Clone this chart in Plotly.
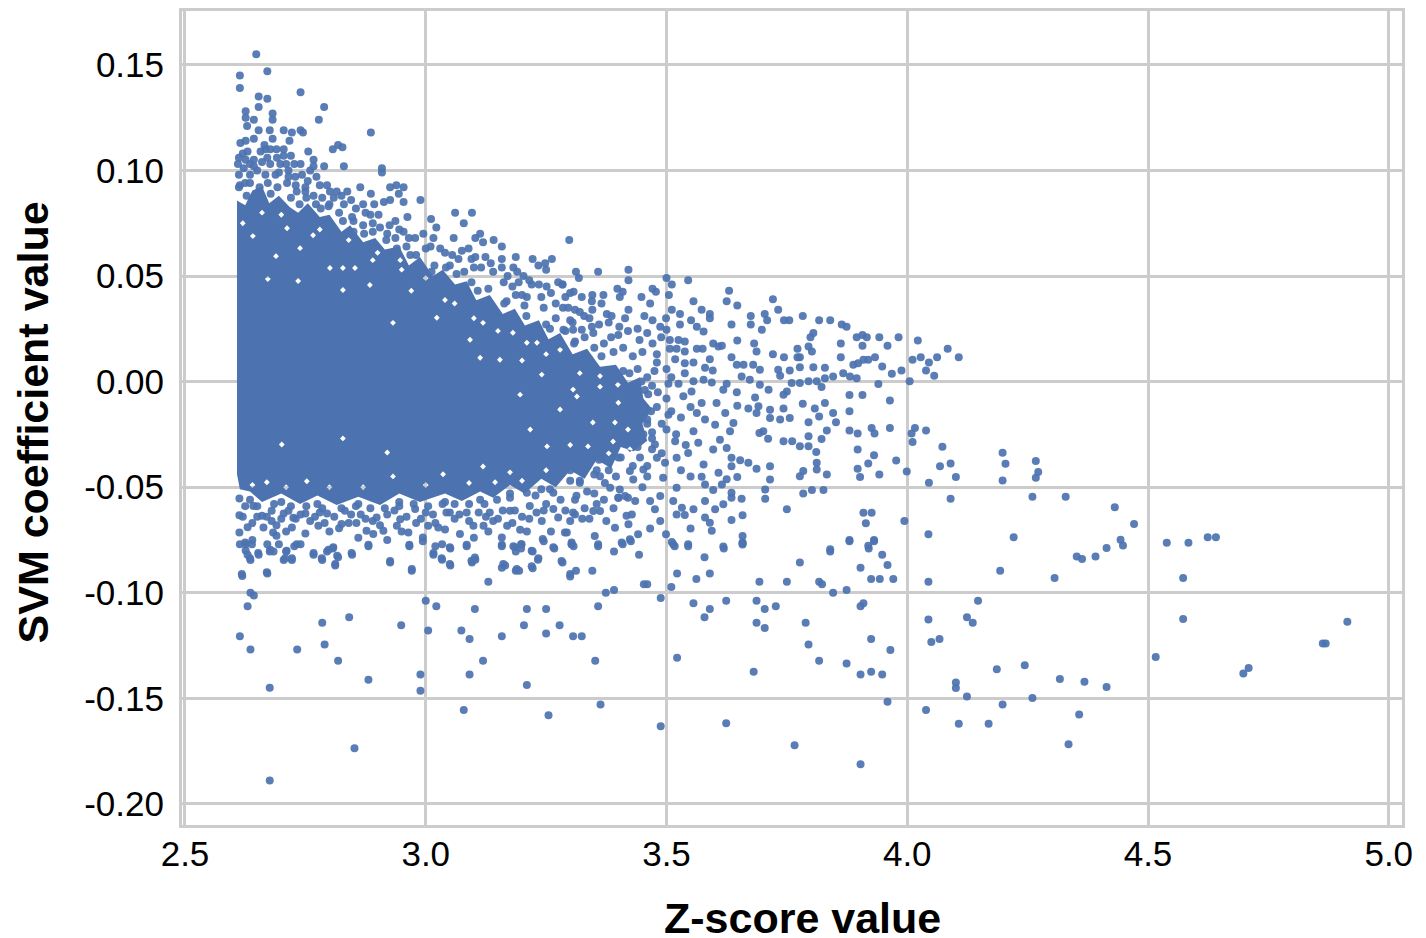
import plotly.graph_objects as go

core_outline = [(2.608,0.0858),(2.625,0.0835),(2.640,0.0905),(2.660,0.0925),(2.675,0.0845),(2.695,0.0880),(2.718,0.0825),(2.735,0.0800),(2.755,0.0845),(2.780,0.0780),(2.800,0.0790),(2.825,0.0710),(2.843,0.0740),(2.870,0.0660),(2.895,0.0680),(2.915,0.0625),(2.945,0.0640),(2.965,0.0550),(2.988,0.0590),(3.015,0.0500),(3.035,0.0530),(3.061,0.0460),(3.085,0.0475),(3.105,0.0385),(3.133,0.0410),(3.160,0.0320),(3.185,0.0345),(3.206,0.0265),(3.235,0.0290),(3.255,0.0200),(3.279,0.0230),(3.305,0.0130),(3.335,0.0155),(3.362,0.0070),(3.395,0.0080),(3.420,-0.0005),(3.445,0.0020),(3.452,-0.0080),(3.470,-0.0130),(3.450,-0.0200),(3.460,-0.0280),(3.432,-0.0330),(3.405,-0.0310),(3.385,-0.0410),(3.355,-0.0370),(3.330,-0.0460),(3.300,-0.0420),(3.270,-0.0500),(3.240,-0.0460),(3.205,-0.0530),(3.175,-0.0490),(3.140,-0.0550),(3.113,-0.0520),(3.075,-0.0565),(3.040,-0.0530),(2.988,-0.0570),(2.945,-0.0530),(2.905,-0.0585),(2.860,-0.0545),(2.815,-0.0585),(2.775,-0.0540),(2.739,-0.0580),(2.700,-0.0530),(2.660,-0.0570),(2.635,-0.0520),(2.614,-0.0510),(2.608,-0.0439)]
core_gaps = [(2.932,0.0278),(3.113,0.0113),(3.023,0.0302),(3.119,0.0278),(3.241,0.0033),(3.306,-0.0038),(3.252,-0.0307),(3.217,-0.0227),(3.119,-0.0402),(3.175,-0.0430),(2.701,-0.0298),(2.920,-0.0336),(2.932,-0.0449),(2.670,-0.0477),(2.828,-0.0269),(2.753,-0.0472),(3.036,-0.0439),(3.144,-0.0477),(3.231,0.0184),(3.210,0.0184),(3.181,0.0231),(2.641,0.0689),(2.712,0.0726),(2.766,0.0693),(2.739,0.0632),(2.689,0.0594),(2.828,0.0538),(2.801,0.0538),(2.853,0.0538),(2.890,0.0575),(2.735,0.0476),(2.672,0.0486),(2.828,0.0434),(2.884,0.0457),(2.947,0.0575),(3.347,-0.0194),(3.393,-0.0194),(3.420,-0.0227),(3.399,-0.0015),(3.362,-0.0024),(3.337,-0.0307),(3.389,-0.0284),(3.424,-0.0321),(3.314,-0.0071),(3.040,0.0386),(3.092,0.0198),(3.154,0.0103),(3.279,0.0151),(3.362,0.0026),(3.279,-0.0132),(3.196,-0.0062),(3.00,0.049),(3.06,0.037),(2.97,0.043),(3.10,0.030),(3.15,0.024),(3.20,0.010),(3.25,0.013),(3.32,0.004),(3.40,-0.010),(3.38,-0.034),(3.30,-0.030),(3.25,-0.042),(3.20,-0.047),(3.09,-0.048),(3.00,-0.049),(2.87,-0.050),(2.80,-0.050),(2.71,-0.050),(2.64,-0.049),(2.78,0.072),(2.84,0.067),(2.90,0.061),(2.95,0.053),(2.66,0.080),(2.70,0.079),(2.62,0.075)]

upper_left = [(2.648,0.155),(2.671,0.147),(2.614,0.145),(2.614,0.139),(2.740,0.137),(2.653,0.135),(2.671,0.134),(2.653,0.130),(2.789,0.130),(2.778,0.124),(2.626,0.128),(2.626,0.125),(2.682,0.127),(2.682,0.124),(2.643,0.124),(2.629,0.121),(2.653,0.119),(2.676,0.119),(2.705,0.119),(2.722,0.118),(2.740,0.119),(2.745,0.118),(2.886,0.118),(2.717,0.114),(2.682,0.115),(2.615,0.113),(2.626,0.114),(2.643,0.115),(2.630,0.109),(2.667,0.110),(2.657,0.109),(2.677,0.110),(2.705,0.110),(2.807,0.110),(2.818,0.112),(2.827,0.111),(2.756,0.109),(2.612,0.106),(2.626,0.105),(2.643,0.105),(2.671,0.106),(2.691,0.106),(2.705,0.107),(2.767,0.105),(2.767,0.102),(2.727,0.103),(2.789,0.102),(2.830,0.102),(2.643,0.102),(2.677,0.103),(2.698,0.103),(2.909,0.101),(2.909,0.099),(2.635,0.098),(2.667,0.098),(2.715,0.100),(2.743,0.098),(2.773,0.097),(2.614,0.093),(2.635,0.094),(2.688,0.098),(2.715,0.097),(2.729,0.097),(2.795,0.093),(2.837,0.090),(2.864,0.092),(2.886,0.089),(2.926,0.092),(2.939,0.093),(2.954,0.092),(2.944,0.089),(2.989,0.086),(2.954,0.085),(2.926,0.086),(2.913,0.085),(2.801,0.090),(2.809,0.087),(2.750,0.092),(2.750,0.090),(2.767,0.088),(2.830,0.084),(2.870,0.084),(2.893,0.084),(3.061,0.080),(3.096,0.080),(3.079,0.075),(3.011,0.077),(3.022,0.073),(2.962,0.078),(2.902,0.079),(2.885,0.079),(2.847,0.078),(3.058,0.068),(3.103,0.068),(3.113,0.070),(3.119,0.066),(3.141,0.067),(3.158,0.064),(3.016,0.068),(2.978,0.068),(2.954,0.071),(2.937,0.076),(2.937,0.068),(3.298,0.067),(3.089,0.063),(3.068,0.058),(3.103,0.059),(3.124,0.059),(3.187,0.059),(3.158,0.058),(3.222,0.058),(3.234,0.055),(3.262,0.058),(3.248,0.056),(3.158,0.054),(3.182,0.054),(3.250,0.053),(3.203,0.050),(3.193,0.047),(3.162,0.047),(3.251,0.045),(3.284,0.046),(3.187,0.041),(3.210,0.040)]

upper_band = [(3.00,0.063),(3.04,0.061),(3.05,0.055),(3.08,0.052),(3.10,0.054),(3.14,0.052),(3.18,0.045),(3.20,0.041),(3.22,0.046),(3.24,0.040),(3.27,0.037),(3.29,0.040),(3.31,0.034),(3.25,0.027),(3.27,0.030),(3.29,0.024),(3.31,0.019),(3.33,0.021),(3.35,0.016),(3.37,0.018),(3.39,0.014),(3.41,0.016),(3.43,0.012),(3.45,0.014),(3.41,0.005),(3.44,0.006),(3.46,0.002),(3.48,0.009),(3.47,-0.002),(3.46,-0.018),(3.44,-0.031),(3.40,-0.036),(3.36,-0.037),(3.38,-0.042),(3.35,-0.044),(3.30,-0.042)]

upper_fill = [(2.61,0.103),(2.62,0.108),(2.635,0.103),(2.65,0.100),(2.66,0.104),(2.665,0.112),(2.69,0.110),(2.695,0.099),(2.71,0.103),(2.72,0.107),(2.73,0.093),(2.74,0.103),(2.755,0.095),(2.76,0.100),(2.78,0.093),(2.785,0.087),(2.80,0.084),(2.815,0.090),(2.825,0.088),(2.845,0.086),(2.855,0.082),(2.875,0.080),(2.89,0.075),(2.905,0.073),(2.925,0.074),(2.945,0.072),(2.965,0.068),(2.995,0.070),(3.01,0.064),(3.03,0.063),(3.055,0.060),(3.075,0.062),(3.095,0.058),(3.115,0.054),(3.135,0.056),(3.17,0.050),(3.19,0.052),(3.215,0.048),(3.235,0.046),(3.26,0.042),(3.275,0.047),(3.30,0.042),(3.32,0.033),(3.34,0.030),(3.36,0.027),(3.38,0.028),(3.40,0.022),(3.42,0.024),(3.44,0.025),(3.46,0.023),(3.48,0.013),(3.50,0.006),(3.51,0.002),(2.612,0.092),(2.625,0.094),(2.612,0.098),(2.622,0.101),(2.655,0.092),(2.672,0.094),(2.692,0.092),(2.712,0.094),(2.732,0.090),(2.752,0.087),(2.772,0.084),(2.798,0.083),(2.82,0.080),(2.85,0.076),(2.87,0.074),(2.89,0.071),(2.92,0.070),(2.94,0.063),(2.96,0.064),(2.98,0.060),(3.012,0.052),(3.042,0.054),(3.095,0.047),(3.130,0.044),(3.168,0.038),(3.205,0.036),(3.245,0.035),(3.285,0.035),(3.305,0.028),(3.345,0.026)]

core_rim = [(2.628,0.088),(2.678,0.089),(2.72,0.087),(2.738,0.084),(2.782,0.082),(2.828,0.076),(2.872,0.070),(2.918,0.067),(2.968,0.060),(3.018,0.055),(3.064,0.051),(3.108,0.043),(3.163,0.037),(3.209,0.031),(3.258,0.025),(3.308,0.018),(3.365,0.012),(3.423,0.004),(2.85,0.071),(2.895,0.064),(2.99,0.054),(3.04,0.048),(3.083,0.042),(3.135,0.036),(3.185,0.029),(3.235,0.024),(3.28,0.018),(3.335,0.010),(3.395,0.003),(3.405,-0.036),(3.355,-0.042),(3.30,-0.047),(3.24,-0.051),(3.175,-0.053),(3.113,-0.056),(3.04,-0.057),(2.945,-0.057),(2.86,-0.058),(2.775,-0.058),(2.70,-0.057),(2.635,-0.056),(3.455,-0.004),(3.46,-0.020),(3.47,-0.027),(3.445,-0.036),(3.43,-0.040),(2.62,-0.064),(2.64,-0.067),(2.66,-0.0635),(2.68,-0.066),(2.705,-0.0625),(2.725,-0.0645),(2.75,-0.0625),(2.77,-0.064),(2.795,-0.0625),(2.82,-0.0695),(2.845,-0.063),(2.875,-0.065),(2.905,-0.068),(2.935,-0.061),(2.96,-0.064),(2.99,-0.065),(3.015,-0.063),(3.05,-0.062),(3.085,-0.062),(3.125,-0.064),(3.15,-0.065),(3.185,-0.061),(3.215,-0.065),(3.245,-0.061),(3.29,-0.061),(3.325,-0.065),(3.355,-0.058),(3.40,-0.055),(3.375,-0.066),(3.335,-0.052)]

core_edge = [(3.448,0.0),(3.452,-0.025),(3.462,-0.006),(3.468,-0.014),(3.475,0.005),(3.482,-0.005),(3.395,-0.045),(3.372,-0.048),(3.320,-0.047),(3.258,-0.051),(3.228,-0.054),(3.175,-0.055),(3.148,-0.056),(3.122,-0.058),(3.090,-0.058),(3.060,-0.058),(3.035,-0.058),(3.005,-0.059),(2.975,-0.058),(2.945,-0.059),(2.915,-0.060),(2.885,-0.060),(2.855,-0.059),(2.825,-0.060),(2.785,-0.060),(2.752,-0.059),(2.72,-0.059),(2.685,-0.058),(2.625,-0.059),(2.65,-0.059),(2.67,-0.064),(2.69,-0.068),(2.71,-0.071),(2.73,-0.065),(2.76,-0.066),(2.79,-0.067),(2.81,-0.064),(2.84,-0.067),(2.865,-0.063),(2.89,-0.066),(2.92,-0.063),(2.95,-0.071),(3.00,-0.062),(3.02,-0.067),(3.07,-0.063),(3.09,-0.066),(3.11,-0.062),(3.14,-0.066),(3.16,-0.061),(3.20,-0.064),(3.23,-0.062),(3.25,-0.058),(3.28,-0.056),(3.31,-0.056),(3.34,-0.065),(3.37,-0.056),(3.39,-0.060),(3.42,-0.055),(3.45,-0.050),(3.46,-0.040),(3.47,-0.024),(3.48,-0.012),(3.49,-0.020),(3.47,-0.032),(3.49,-0.034),(3.46,-0.045),(3.50,-0.008),(3.51,-0.014),(3.52,-0.025),(3.53,-0.017),(3.54,-0.030),(3.53,-0.042),(3.55,-0.045),(3.55,-0.012)]

middle_right = [(3.421,0.053),(3.421,0.048),(3.358,0.052),(3.312,0.052),(3.318,0.049),(3.284,0.046),(3.500,0.049),(3.511,0.046),(3.545,0.048),(3.307,0.0425),(3.324,0.040),(3.346,0.041),(3.369,0.041),(3.398,0.044),(3.409,0.0425),(3.403,0.040),(3.448,0.040),(3.471,0.044),(3.478,0.0425),(3.505,0.041),(3.466,0.037),(3.345,0.038),(3.365,0.037),(3.346,0.034),(3.296,0.035),(3.421,0.034),(3.376,0.032),(3.386,0.031),(3.329,0.031),(3.454,0.031),(3.414,0.030),(3.300,0.029),(3.556,0.038),(3.630,0.043),(3.625,0.038),(3.647,0.036),(3.721,0.039),(3.732,0.034),(3.704,0.032),(3.675,0.031),(3.675,0.027),(3.709,0.029),(3.698,0.0245),(3.511,0.034),(3.528,0.032),(3.573,0.034),(3.590,0.032),(3.590,0.030),(3.551,0.029),(3.528,0.027),(3.635,0.027),(3.744,0.029),(3.755,0.029),(3.783,0.031),(3.817,0.029),(3.840,0.029),(3.864,0.027),(3.874,0.026),(3.471,0.029),(3.499,0.030),(3.487,0.026),(3.500,0.0245),(3.402,0.026),(3.563,0.026),(3.577,0.0237),(3.306,0.0245),(3.324,0.0245),(3.286,0.0245),(3.805,0.023),(3.799,0.021),(3.795,0.0166),(3.802,0.0142),(3.772,0.0156),(3.772,0.0115),(3.777,0.0115),(3.744,0.0115),(3.721,0.013),(3.687,0.0142),(3.682,0.018),(3.647,0.0194),(3.635,0.0115),(3.597,0.018),(3.608,0.0166),(3.615,0.017),(3.348,0.023),(3.385,0.021),(3.444,0.0197),(3.471,0.018),(3.489,0.021),(3.507,0.0197),(3.525,0.0197),(3.538,0.019),(3.507,0.0156),(3.521,0.0156),(3.538,0.0142),(3.563,0.0156),(3.575,0.0156),(3.862,0.018),(3.862,0.0115),(3.895,0.021),(3.907,0.022),(3.916,0.021),(3.907,0.017),(3.942,0.021),(3.959,0.017),(3.982,0.021),(4.022,0.0194),(4.084,0.0156),(4.107,0.0115),(4.062,0.0115),(4.028,0.0115),(4.011,0.0103),(4.045,0.009),(4.039,0.0052),(4.056,0.0027),(3.988,0.0052),(3.968,0.0037),(4.005,0.0001),(3.888,0.008),(3.898,0.0087),(3.909,0.0103),(3.919,0.0103),(3.933,0.0115),(3.948,0.0071),(3.867,0.004),(3.881,0.0024),(3.895,0.0016),(3.846,0.0024),(3.829,0.0016),(3.812,0.0001),(3.795,0.0001),(3.777,-0.0007),(3.760,-0.0007),(3.750,-0.0047),(3.743,-0.0062),(3.940,-0.0012),(3.822,-0.0026),(3.880,-0.0064),(3.907,-0.0064),(3.964,-0.009),(3.646,0.008),(3.660,0.008),(3.680,0.008),(3.694,0.0056),(3.732,0.0056),(3.756,0.0052),(3.736,0.0027),(3.777,0.0068),(3.805,0.0068),(3.829,0.0065),(3.656,0.0024),(3.673,0.0009),(3.694,-0.0015),(3.712,-0.0039),(3.618,-0.0039),(3.625,-0.0010),(3.646,-0.0051),(3.684,-0.0076),(3.556,0.0001),(3.577,0.0009),(3.594,-0.0004),(3.504,-0.0010),(3.525,-0.0010),(3.538,0.004),(3.518,0.0106),(3.538,0.0087),(3.556,0.009),(3.590,0.0106),(3.580,0.0065),(3.596,0.0052),(3.647,-0.0114),(3.670,-0.0127),(3.691,-0.0117),(3.687,-0.0149),(3.715,-0.0133),(3.715,-0.0172),(3.743,-0.0127),(3.736,-0.0180),(3.756,-0.0172),(3.783,-0.0105),(3.808,-0.0127),(3.829,-0.0102),(3.817,-0.0165),(3.846,-0.0149),(3.852,-0.0193),(3.880,-0.0141),(3.795,-0.0193),(3.795,-0.0259),(3.833,-0.0232),(3.822,-0.0272),(3.880,-0.0232),(3.897,-0.0246),(3.926,-0.0220),(3.932,-0.0246),(3.964,-0.0220),(4.016,-0.0220),(4.009,-0.0246),(4.039,-0.0232),(4.011,-0.0286),(4.073,-0.0309),(3.897,-0.0322),(3.931,-0.0349),(3.919,-0.0388),(3.977,-0.0374),(4.068,-0.0401),(4.090,-0.0388),(3.897,-0.0413),(3.902,-0.0452),(3.942,-0.0440),(3.999,-0.0426),(4.101,-0.0452),(4.045,-0.0479),(4.090,-0.0555),(3.994,-0.0660),(4.044,-0.0723),(3.909,-0.0621),(3.926,-0.0621),(3.914,-0.0671),(3.880,-0.0750),(3.931,-0.0750),(3.919,-0.0778),(3.840,-0.0794),(3.750,-0.0605),(3.658,-0.0633),(3.658,-0.0731),(3.658,-0.0762),(3.635,-0.0655),(3.618,-0.0781),(3.545,-0.0770),(3.550,-0.0696),(3.594,-0.0707),(3.590,-0.0668),(3.580,-0.0644),(3.656,-0.0555),(3.705,-0.0511),(3.705,-0.0555),(3.784,-0.0530),(3.802,-0.0514),(3.826,-0.0514),(3.715,-0.0464),(3.715,-0.0401),(3.687,-0.0413),(3.670,-0.0385),(3.653,-0.0372),(3.635,-0.0361),(3.635,-0.0401),(3.647,-0.0452),(3.625,-0.0463),(3.615,-0.0487),(3.597,-0.0514),(3.635,-0.0526),(3.777,-0.0448),(3.784,-0.0424),(3.812,-0.0385),(3.812,-0.0416),(3.833,-0.0440),(3.777,-0.0306),(3.795,-0.0306),(3.811,-0.0333),(3.743,-0.0283),(3.761,-0.0283),(3.701,-0.0235),(3.711,-0.0271),(3.693,-0.0243),(3.573,-0.0102),(3.604,-0.0102),(3.622,-0.0149),(3.563,-0.0149),(3.580,-0.0180),(3.601,-0.0204),(3.639,-0.0196),(3.632,-0.0235),(3.611,-0.0275),(3.625,-0.0314),(3.597,-0.0322),(3.577,-0.0393),(3.608,-0.0432),(3.573,-0.0451),(3.580,-0.0487),(3.504,-0.0157),(3.535,-0.0070),(3.552,-0.0047),(3.500,-0.0227),(3.518,-0.0283),(3.476,-0.0298),(3.545,-0.0338),(3.480,-0.0361),(3.521,-0.0361),(3.566,-0.0290),(3.556,-0.0235),(3.497,-0.0385),(3.493,-0.0456),(3.452,-0.0416),(3.521,-0.0503),(3.487,-0.0542),(3.514,-0.0566),(3.532,-0.0597),(3.556,-0.0605),(3.521,-0.0629),(3.538,-0.0632),(3.466,-0.0566),(3.476,-0.0605),(3.435,-0.0566),(3.466,-0.0696),(3.487,-0.0660),(3.499,-0.0723),(3.514,-0.0770),(3.580,-0.0566),(3.601,-0.0605),(3.618,-0.0581),(3.635,-0.0550),(3.417,-0.0636),(3.428,-0.0629),(3.421,-0.0676),(3.393,-0.0692),(3.441,-0.0723),(3.424,-0.0747),(3.407,-0.0762),(3.351,-0.0731),(3.358,-0.0770),(3.293,-0.0715),(3.303,-0.0762),(3.348,-0.0613),(3.362,-0.0613),(3.310,-0.0629),(3.403,-0.0511),(3.414,-0.0542),(3.400,-0.0550),(3.383,-0.0503),(3.431,-0.0464),(3.424,-0.0424),(3.362,-0.0448),(3.320,-0.0479)]

lower_fringe = [(2.613,-0.0554),(2.613,-0.0633),(2.613,-0.0715),(2.625,-0.0762),(2.635,-0.0837),(2.618,-0.0911),(2.670,-0.0903),(2.652,-0.0812),(2.677,-0.0796),(2.708,-0.0837),(2.722,-0.0837),(2.711,-0.0801),(2.732,-0.0770),(2.767,-0.0812),(2.784,-0.0837),(2.798,-0.0796),(2.808,-0.0785),(2.816,-0.0825),(2.812,-0.0864),(2.846,-0.0812),(2.881,-0.0773),(2.926,-0.0850),(2.971,-0.0888),(2.966,-0.0773),(2.994,-0.0738),(3.016,-0.0812),(3.033,-0.0837),(3.050,-0.0864),(3.050,-0.0785),(3.085,-0.0773),(3.095,-0.0848),(3.102,-0.0833),(3.161,-0.0864),(3.189,-0.0888),(3.220,-0.0875),(3.234,-0.0837),(3.282,-0.0850),(3.300,-0.0911),(3.220,-0.0801),(3.185,-0.0785),(3.199,-0.0770),(3.158,-0.0738),(3.158,-0.0773),(3.265,-0.0785),(3.303,-0.0770),(3.243,-0.0746),(3.289,-0.0715),(2.663,-0.0691),(2.683,-0.0715),(2.722,-0.0691),(2.777,-0.0683),(2.825,-0.0675),(2.856,-0.0670),(2.877,-0.0707),(2.891,-0.0722),(2.912,-0.0707),(2.940,-0.0683),(2.964,-0.0715),(3.005,-0.0683),(3.026,-0.0691),(3.071,-0.0722),(3.099,-0.0683),(3.120,-0.0683),(3.169,-0.0683),(3.196,-0.0702),(3.241,-0.0660),(3.275,-0.0644),(2.978,-0.0604),(2.898,-0.0644),(2.832,-0.0612),(2.780,-0.0620),(2.715,-0.0612),(2.680,-0.0612),(2.642,-0.0589),(2.947,-0.0652),(3.043,-0.0620),(3.133,-0.0620),(3.175,-0.0612),(3.216,-0.0589),(3.265,-0.0604),(3.306,-0.0620),(3.313,-0.0541),(3.265,-0.0526),(3.210,-0.0526),(2.70,-0.065),(2.74,-0.063),(2.65,-0.064),(2.63,-0.069),(2.64,-0.075),(2.69,-0.073),(2.75,-0.072),(2.80,-0.071),(2.86,-0.074),(2.92,-0.075),(2.98,-0.067),(3.04,-0.070),(3.06,-0.065),(3.10,-0.074),(3.13,-0.071),(3.18,-0.067),(3.21,-0.071),(3.26,-0.071),(3.30,-0.066),(3.33,-0.060),(3.35,-0.053)]

lower_left = [(2.614,-0.1206),(2.636,-0.1269),(2.676,-0.1450),(2.676,-0.1889),(2.852,-0.1736),(2.733,-0.1269),(2.790,-0.1245),(2.785,-0.1142),(2.841,-0.1116),(2.818,-0.1322),(2.881,-0.1412),(2.949,-0.1154),(3.005,-0.1179),(2.989,-0.1387),(2.989,-0.1464),(3.000,-0.1038),(3.022,-0.1064),(3.102,-0.1077),(3.210,-0.1077),(3.250,-0.1077),(3.074,-0.1179),(3.091,-0.1219),(3.119,-0.1322),(3.091,-0.1387),(3.158,-0.1206),(3.204,-0.1154),(3.250,-0.1193),(3.278,-0.1154),(3.306,-0.1206),(3.324,-0.1206),(3.352,-0.1322),(3.210,-0.1437),(3.079,-0.1555),(3.255,-0.1580),(3.363,-0.1529),(3.358,-0.1064),(3.374,-0.1000),(3.391,-0.0987),(2.630,-0.1064),(2.636,-0.1000),(2.643,-0.1013),(2.619,-0.0921),(2.671,-0.0909),(3.130,-0.0948),(2.614,-0.077),(2.626,-0.077),(2.639,-0.077),(2.626,-0.080),(2.630,-0.082),(2.636,-0.0845),(2.653,-0.082),(2.671,-0.077),(2.676,-0.0805),(2.684,-0.0805),(2.695,-0.077),(2.710,-0.0805),(2.705,-0.0845),(2.722,-0.0845),(2.727,-0.078),(2.740,-0.077),(2.767,-0.082),(2.785,-0.0845),(2.795,-0.0805),(2.807,-0.079),(2.818,-0.0832),(2.812,-0.0871),(2.847,-0.082),(2.881,-0.078),(2.926,-0.0857),(2.971,-0.0896),(2.966,-0.078),(2.994,-0.0756),(3.016,-0.082),(3.020,-0.078),(3.034,-0.077),(3.034,-0.0844),(3.051,-0.079),(3.051,-0.0871),(3.085,-0.078),(3.096,-0.0857),(3.103,-0.0844),(3.158,-0.078),(3.158,-0.0882),(3.165,-0.0871),(3.182,-0.078),(3.187,-0.0805),(3.198,-0.077),(3.198,-0.079),(3.187,-0.0896),(3.194,-0.0896),(3.222,-0.0805),(3.222,-0.0884),(3.233,-0.0844),(3.267,-0.079),(3.284,-0.0857),(3.300,-0.0923),(3.312,-0.0896),(3.303,-0.077),(3.307,-0.078),(3.346,-0.0896),(3.358,-0.078),(3.391,-0.0805),(3.245,-0.0756)]

lower_middle = [(3.409,-0.077),(3.426,-0.0756),(3.443,-0.082),(3.453,-0.096),(3.460,-0.096),(3.510,-0.0973),(3.488,-0.1025),(3.522,-0.0909),(3.562,-0.0935),(3.590,-0.0909),(3.517,-0.078),(3.545,-0.078),(3.511,-0.076),(3.579,-0.0832),(3.619,-0.079),(3.658,-0.0766),(3.658,-0.0772),(3.556,-0.1050),(3.590,-0.1077),(3.579,-0.1116),(3.624,-0.1038),(3.522,-0.1308),(3.681,-0.1374),(3.693,-0.0948),(3.750,-0.0948),(3.777,-0.0857),(3.840,-0.0805),(3.817,-0.0948),(3.823,-0.096),(3.846,-0.1000),(3.874,-0.0987),(3.687,-0.1038),(3.704,-0.1077),(3.727,-0.1064),(3.687,-0.1142),(3.704,-0.1167),(3.789,-0.1142),(3.795,-0.1245),(3.817,-0.1322),(3.874,-0.1335),(3.903,-0.1387),(3.925,-0.1374),(3.948,-0.1387),(3.925,-0.1219),(3.965,-0.1271),(3.903,-0.1064),(3.909,-0.1050),(3.959,-0.1516),(3.624,-0.1618),(3.488,-0.1632),(3.766,-0.1722),(3.903,-0.1812),(3.903,-0.0882),(3.925,-0.0935),(3.943,-0.0935),(3.971,-0.0935),(3.959,-0.0869),(3.948,-0.082),(3.920,-0.079),(3.931,-0.0756),(3.880,-0.0756),(4.044,-0.0948),(4.193,-0.0896),(4.044,-0.1127),(4.050,-0.1233),(4.067,-0.1219),(4.147,-0.1038),(4.124,-0.1116),(4.136,-0.1142),(4.186,-0.1362),(4.101,-0.1425),(4.101,-0.1451),(4.124,-0.1491),(4.039,-0.1555),(4.198,-0.1529),(4.107,-0.1620),(4.169,-0.1620)]

far_right = [(4.198,-0.0337),(4.204,-0.0389),(4.198,-0.0468),(4.267,-0.0376),(4.272,-0.0428),(4.267,-0.0455),(4.260,-0.0545),(4.329,-0.0545),(4.431,-0.0595),(4.471,-0.0674),(4.221,-0.0737),(4.443,-0.0749),(4.448,-0.0776),(4.414,-0.0788),(4.391,-0.0828),(4.352,-0.0828),(4.363,-0.0840),(4.306,-0.0930),(4.539,-0.0763),(4.584,-0.0763),(4.624,-0.0737),(4.641,-0.0737),(4.573,-0.0930),(4.573,-0.1125),(4.914,-0.1138),(4.863,-0.1240),(4.869,-0.1240),(4.516,-0.1304),(4.709,-0.1356),(4.698,-0.1383),(4.244,-0.1344),(4.317,-0.1408),(4.368,-0.1421),(4.414,-0.1447),(4.260,-0.1498),(4.357,-0.1577),(4.335,-0.1718)]

x_ticks = [2.5, 3.0, 3.5, 4.0, 4.5, 5.0]
x_tick_labels = ["2.5", "3.0", "3.5", "4.0", "4.5", "5.0"]
y_ticks = [0.15, 0.10, 0.05, 0.0, -0.05, -0.10, -0.15, -0.20]
y_tick_labels = ["0.15", "0.10", "0.05", "0.00", "-0.05", "-0.10", "-0.15", "-0.20"]

BLUE = "#4c72b0"
GRID = "#cccccc"
FONT = "Liberation Sans, Arial, sans-serif"
GAP_DX, GAP_DY = 0.006, 0.0014
points = upper_left + upper_band + upper_fill + core_rim + core_edge + middle_right + lower_fringe + lower_left + lower_middle + far_right

# Outer outline runs clockwise on screen; each gap runs the other way so it stays unfilled
core_x = [p[0] for p in core_outline] + [core_outline[0][0], None]
core_y = [p[1] for p in core_outline] + [core_outline[0][1], None]
for gx, gy in core_gaps:
    core_x += [gx, gx - GAP_DX, gx, gx + GAP_DX, gx, None]
    core_y += [gy + GAP_DY, gy, gy - GAP_DY, gy, gy + GAP_DY, None]

fig = go.Figure()
fig.add_trace(go.Scatter(x=core_x, y=core_y, mode="lines", fill="toself", fillcolor=BLUE,
                         line=dict(color=BLUE, width=0), hoverinfo="skip", showlegend=False))
fig.add_trace(go.Scatter(x=[p[0] for p in points], y=[p[1] for p in points], mode="markers",
                         marker=dict(color=BLUE, size=8, opacity=0.92, line=dict(width=0)), showlegend=False))

fig.update_layout(
    width=1426, height=938, autosize=False,
    margin=dict(l=182, r=24, t=8, b=113),
    paper_bgcolor="white", plot_bgcolor="white",
    font=dict(family=FONT, size=35, color="black"),
    annotations=[
        dict(text="Z-score value", xref="paper", yref="paper", x=(802-182)/1220, y=-(918-825)/817,
             xanchor="center", yanchor="middle", showarrow=False, font=dict(family=FONT, size=43, color="black", weight="bold")),
        dict(text="SVM coefficient value", xref="paper", yref="paper", x=-(182-33)/1220, y=(825-421)/817, textangle=-90,
             xanchor="center", yanchor="middle", showarrow=False, font=dict(family=FONT, size=43, color="black", weight="bold")),
    ],
)
fig.update_xaxes(range=[2.4938, 5.0275], tickmode="array", tickvals=x_ticks, ticktext=x_tick_labels,
                 showgrid=True, gridcolor=GRID, gridwidth=2.5, zeroline=False, showline=True, linecolor=GRID, linewidth=2.5,
                 mirror=True, ticks="", ticklabelstandoff=-4)
fig.update_yaxes(range=[-0.21, 0.1755], tickmode="array", tickvals=y_ticks, ticktext=y_tick_labels,
                 showgrid=True, gridcolor=GRID, gridwidth=2.5, zeroline=False, showline=True, linecolor=GRID, linewidth=3,
                 mirror=True, ticks="", ticklabelstandoff=8)

fig.write_html("out.html", config=dict(displayModeBar=False), post_script="document.body.style.margin='0';")
